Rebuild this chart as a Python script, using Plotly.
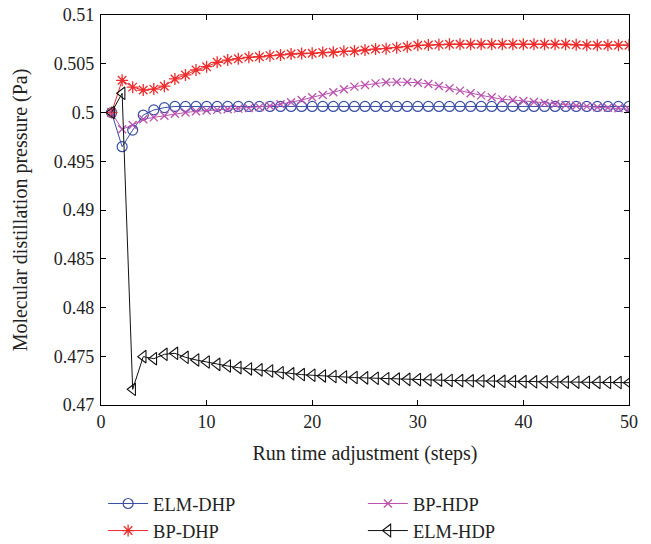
import plotly.graph_objects as go

steps = list(range(1, 51))

elm_dhp = [0.5000, 0.49649, 0.49820, 0.49974, 0.50026, 0.50050] + [0.50062] * 44

bp_dhp = [0.5000, 0.50330, 0.50260, 0.50230, 0.50240, 0.50270, 0.50344, 0.50385, 0.50436, 0.50470,
          0.50515, 0.50538, 0.50552, 0.50566, 0.50572, 0.50583, 0.50590, 0.50600, 0.50605, 0.50607,
          0.50615, 0.50618, 0.50627, 0.50630, 0.50641, 0.50651, 0.50655, 0.50665, 0.50675, 0.50689,
          0.50692, 0.50696, 0.50700, 0.50700, 0.50700, 0.50700, 0.50700, 0.50700, 0.50700, 0.50700,
          0.50700, 0.50700, 0.50700, 0.50700, 0.50695, 0.50690, 0.50690, 0.50690, 0.50690, 0.50690]

bp_hdp = [0.5000, 0.49828, 0.49872, 0.49930, 0.49950, 0.49967, 0.49988, 0.50000, 0.50012, 0.50020,
          0.50027, 0.50033, 0.50040, 0.50045, 0.50055, 0.50067, 0.50085, 0.50105, 0.50128, 0.50156,
          0.50180, 0.50207, 0.50238, 0.50265, 0.50282, 0.50299, 0.50310, 0.50312, 0.50312, 0.50306,
          0.50292, 0.50272, 0.50248, 0.50224, 0.50197, 0.50176, 0.50156, 0.50135, 0.50128, 0.50118,
          0.50108, 0.50097, 0.50087, 0.50077, 0.50070, 0.50063, 0.50053, 0.50048, 0.50043, 0.50033]

elm_hdp = [0.5000, 0.50197, 0.47161, 0.47496, 0.47475, 0.47520, 0.47530, 0.47489, 0.47462, 0.47441,
           0.47417, 0.47400, 0.47383, 0.47370, 0.47360, 0.47349, 0.47331, 0.47320, 0.47312, 0.47305,
           0.47298, 0.47292, 0.47287, 0.47282, 0.47278, 0.47274, 0.47270, 0.47266, 0.47263, 0.47260,
           0.47257, 0.47255, 0.47252, 0.47250, 0.47248, 0.47246, 0.47244, 0.47243, 0.47241, 0.47240,
           0.47238, 0.47237, 0.47236, 0.47235, 0.47234, 0.47233, 0.47232, 0.47231, 0.47230, 0.47229]

y_ticks = [0.47, 0.475, 0.48, 0.485, 0.49, 0.495, 0.5, 0.505, 0.51]
y_tick_text = ["0.47", "0.475", "0.48", "0.485", "0.49", "0.495", "0.5", "0.505", "0.51"]
x_ticks = [0, 10, 20, 30, 40, 50]

FONT = "Liberation Serif"

fig = go.Figure()
fig.add_trace(go.Scatter(x=steps, y=elm_dhp, name="ELM-DHP", mode="lines+markers", legend="legend",
                         line=dict(color="#3a4fa6", width=1),
                         marker=dict(symbol="circle-open", size=10, color="#3a4fa6", line=dict(width=1.2))))
fig.add_trace(go.Scatter(x=steps, y=bp_dhp, name="BP-DHP", mode="lines+markers", legend="legend",
                         line=dict(color="#ee2c2c", width=1),
                         marker=dict(symbol="asterisk-open", size=10, color="#ee2c2c", line=dict(width=1.3))))
fig.add_trace(go.Scatter(x=steps, y=bp_hdp, name="BP-HDP", mode="lines+markers", legend="legend2",
                         line=dict(color="#bb52b0", width=1),
                         marker=dict(symbol="x-thin-open", size=8, color="#bb52b0", line=dict(width=1.3))))
fig.add_trace(go.Scatter(x=steps, y=elm_hdp, name="ELM-HDP", mode="lines+markers", legend="legend2",
                         line=dict(color="#111111", width=1),
                         marker=dict(symbol="triangle-left-open", size=11, color="#111111", line=dict(width=1.1))))

legend_common = dict(orientation="v", xref="paper", yref="container", xanchor="left",
                     yanchor="top", y=0.1085, itemwidth=40, tracegroupgap=0,
                     bgcolor="rgba(0,0,0,0)", font=dict(family=FONT, size=18.5, color="#222222"))

fig.update_layout(
    width=651, height=544,
    margin=dict(l=101, r=22, t=15, b=139),
    paper_bgcolor="white", plot_bgcolor="white",
    font=dict(family=FONT, size=18, color="#222222"),
    showlegend=True,
    legend=dict(x=0.004, **legend_common),
    legend2=dict(x=0.496, **legend_common),
    xaxis=dict(range=[0, 50], tickvals=x_ticks, ticks="inside", ticklen=5, tickcolor="black",
               showline=True, linecolor="black", linewidth=1.2, mirror="ticks", showgrid=False,
               zeroline=False, automargin=False,
               title=dict(text="Run time adjustment (steps)", standoff=15, font=dict(size=20))),
    yaxis=dict(range=[0.47, 0.51], tickvals=y_ticks, ticktext=y_tick_text, ticks="inside", ticklen=5,
               tickcolor="black", showline=True, linecolor="black", linewidth=1.2, mirror="ticks",
               showgrid=False, zeroline=False, automargin=False, ticklabelstandoff=2,
               title=dict(text="Molecular distillation pressure (Pa)", standoff=20, font=dict(size=20))),
)

fig.write_html("out.html", config={"displayModeBar": False},
               post_script="document.body.style.margin='0';")
